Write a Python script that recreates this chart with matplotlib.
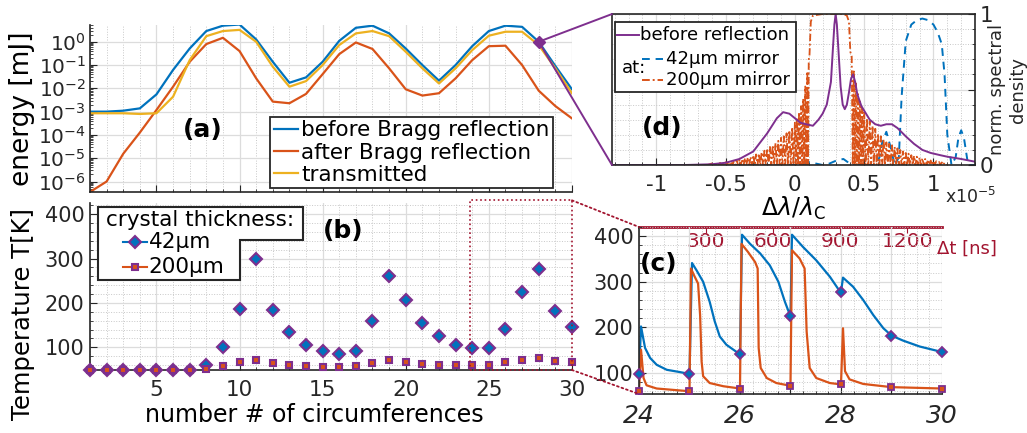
import numpy as np
import matplotlib
matplotlib.use('Agg')
import matplotlib.pyplot as plt
from matplotlib.patches import ConnectionPatch, Rectangle, Polygon
from matplotlib.lines import Line2D
from matplotlib.ticker import MultipleLocator, LogLocator, NullFormatter, FixedLocator

plt.rcParams['font.family'] = 'DejaVu Sans'
plt.rcParams['axes.unicode_minus'] = False
plt.rcParams['text.color'] = '#262626'

c_blue = '#0072BD'
c_orange = '#D95319'
c_yellow = '#EDB120'
c_purple = '#7E2F8E'
c_red = '#A2142F'
c_ax = '#262626'

# ---- data ----
turns = list(range(1, 31))
# (a) pulse energy, log10(mJ)
log_before = [-3.0, -3.0, -2.96, -2.86, -2.26, -1.21, -0.29, 0.46, 0.69, 0.74,
              0.10, -0.86, -1.76, -1.53, -0.86, 0.04, 0.60, 0.69, 0.36, -0.29,
              -1.0, -1.67, -1.0, -0.19, 0.46, 0.69, 0.64, 0.0, -1.04, -2.04]
log_after = [-6.45, -6.0, -4.81, -3.9, -2.93, -1.93, -0.86, -0.10, 0.17, -0.40,
             -1.57, -2.57, -2.64, -2.24, -1.39, -0.53, -0.03, -0.31, -1.14, -2.04,
             -2.31, -2.21, -1.57, -0.79, -0.19, -0.17, -1.0, -2.1, -2.76, -3.29]
log_trans = [-3.07, -3.07, -3.07, -3.1, -3.07, -2.36, -0.79, 0.24, 0.46, 0.51,
             0.0, -1.07, -1.93, -1.69, -1.0, -0.14, 0.36, 0.46, 0.24, -0.43,
             -1.14, -1.79, -1.14, -0.36, 0.26, 0.43, 0.43, -0.14, -1.14, -2.21]

# (b) crystal temperature after each circumference [K]
temp_42 = [50, 50, 50, 50, 50, 50, 50, 60, 100, 187, 300, 184, 135, 105, 92,
           86, 92, 160, 260, 206, 154, 125, 105, 98, 98, 141, 224, 277, 182, 146]
temp_200 = [50, 50, 50, 50, 50, 50, 50, 52, 58, 66, 71, 65, 61, 59, 56,
            56, 59, 65, 71, 68, 63, 61, 60, 60, 60, 66, 72, 75, 69, 66]

# (c) temperature vs time (in circumferences)
ns_per_turn = 226
c42_t = [24.0, 24.04, 24.12, 24.22, 24.35, 24.55, 24.81, 25.0, 25.05, 25.14, 25.27,
         25.4, 25.5, 25.6, 25.73, 25.87, 26.0, 26.04, 26.2, 26.4, 26.59, 26.76, 26.89,
         27.0, 27.03, 27.25, 27.51, 27.78, 27.94, 28.0, 28.04, 28.24, 28.44, 28.64,
         28.84, 29.0, 29.23, 29.56, 30.0]
c42_T = [98, 202, 155, 133, 118, 107, 102, 98, 341, 325, 300,
         256, 213, 180, 162, 151, 141, 403, 383, 362, 336, 300, 256,
         224, 403, 376, 347, 311, 285, 277, 309, 289, 260, 227,
         198, 182, 171, 158, 146]
c200_t = [24.0, 24.04, 24.09, 24.15, 24.35, 25.0, 25.03, 25.09, 25.17, 25.21, 25.24,
          25.27, 25.4, 25.67, 26.0, 26.03, 26.16, 26.3, 26.35, 26.37, 26.41, 26.53,
          26.72, 27.0, 27.03, 27.18, 27.28, 27.32, 27.38, 27.51, 27.78, 28.0, 28.04,
          28.08, 28.17, 28.44, 29.0, 30.0]
c200_T = [60, 151, 89, 73, 66, 60, 329, 314, 296, 227, 125,
          93, 78, 71, 66, 383, 365, 343, 329, 155, 111, 89,
          78, 72, 369, 351, 329, 191, 111, 89, 78, 75, 198,
          104, 86, 76, 69, 66]

# (d) normalised spectra, x in units of 1e-5
spec_x = [-1.32, -0.8, -0.6, -0.5, -0.4, -0.3, -0.2, -0.13, -0.085, -0.04, 0.0, 0.04,
          0.08, 0.13, 0.17, 0.2, 0.23, 0.26, 0.275, 0.285, 0.294, 0.303, 0.315, 0.33,
          0.345, 0.36, 0.375, 0.39, 0.405, 0.42, 0.435, 0.45, 0.48, 0.54, 0.58, 0.62,
          0.66, 0.70, 0.74, 0.80, 0.86, 0.92, 0.98, 1.05, 1.1, 1.2, 1.3]
spec_before = [0.0, 0.0, 0.005, 0.015, 0.04, 0.09, 0.21, 0.31, 0.35, 0.34, 0.31, 0.28,
               0.27, 0.26, 0.30, 0.34, 0.40, 0.55, 0.78, 0.93, 1.0, 0.93, 0.75, 0.52,
               0.40, 0.37, 0.40, 0.48, 0.57, 0.60, 0.55, 0.47, 0.39, 0.30, 0.27, 0.26,
               0.27, 0.27, 0.245, 0.19, 0.14, 0.10, 0.08, 0.065, 0.055, 0.04, 0.022]
m42_x = [-1.32, 0.05, 0.1, 0.15, 0.2, 0.25, 0.3, 0.35, 0.38, 0.4, 0.58, 0.61, 0.63,
         0.66, 0.69, 0.72, 0.75, 0.77, 0.80, 0.84, 0.88, 0.92, 0.96, 1.00, 1.03, 1.06,
         1.08, 1.10, 1.13, 1.16, 1.18, 1.20, 1.22, 1.25, 1.3]
m42_y = [0, 0, 0.02, 0.01, 0.0, 0.01, 0.03, 0.04, 0.02, 0, 0, 0.05, 0.15,
         0.22, 0.12, 0, 0.05, 0.45, 0.82, 0.93, 0.96, 0.97, 0.96, 0.93, 0.88, 0.80,
         0.6, 0.2, 0, 0.05, 0.18, 0.23, 0.18, 0, 0]
m200_left_x = [-0.60, -0.58, -0.56, -0.54, -0.52, -0.50, -0.48, -0.46, -0.44, -0.42,
               -0.40, -0.38, -0.36, -0.34, -0.32, -0.30, -0.28, -0.26, -0.24, -0.22,
               -0.20, -0.18, -0.16, -0.14, -0.12, -0.10, -0.08, -0.06, -0.04, -0.02,
               0.00, 0.015, 0.03, 0.045, 0.06, 0.075, 0.09, 0.10]
m200_left_y = [0.01, 0.011, 0.012, 0.014, 0.016, 0.018, 0.02, 0.023, 0.026, 0.03,
               0.035, 0.04, 0.045, 0.05, 0.055, 0.065, 0.07, 0.075, 0.085, 0.095,
               0.11, 0.12, 0.13, 0.145, 0.16, 0.18, 0.19, 0.21, 0.23, 0.25,
               0.28, 0.31, 0.35, 0.39, 0.44, 0.52, 0.62, 0.70]
m200_top_x = [0.105, 0.115, 0.13, 0.2, 0.35, 0.375, 0.39, 0.40]
m200_top_y = [0.72, 0.95, 0.99, 1.0, 1.0, 0.99, 0.95, 0.75]
m200_right_x = [0.41, 0.425, 0.44, 0.455, 0.47, 0.485, 0.50, 0.52, 0.54, 0.56, 0.58,
                0.60, 0.62, 0.64, 0.66, 0.68, 0.70, 0.72, 0.74, 0.76, 0.78, 0.80,
                0.82, 0.84, 0.86, 0.88, 0.90, 0.92, 0.94, 0.96, 0.98, 1.00, 1.02,
                1.04, 1.06, 1.08]
m200_right_y = [0.72, 0.62, 0.54, 0.47, 0.42, 0.38, 0.35, 0.31, 0.29, 0.26, 0.24,
                0.21, 0.19, 0.17, 0.15, 0.14, 0.13, 0.12, 0.11, 0.10, 0.09, 0.08,
                0.075, 0.065, 0.06, 0.055, 0.05, 0.045, 0.04, 0.035, 0.03, 0.028,
                0.025, 0.02, 0.017, 0.015]


def fringes(px, py):
    # peaks with zero minima in between
    xs, ys = [], []
    for i in range(len(px)):
        xs.append(px[i]); ys.append(py[i])
        if i + 1 < len(px):
            xs.append((px[i] + px[i + 1]) / 2); ys.append(0)
    return xs, ys


def matlab_style(ax, xmaj, xmin, ymaj=None, ymin=None):
    for s in ax.spines.values():
        s.set_color(c_ax)
        s.set_linewidth(1.2)
    ax.tick_params(which='both', direction='in', colors=c_ax, labelsize=15)
    ax.tick_params(which='major', length=5)
    ax.tick_params(which='minor', length=2.5)
    ax.xaxis.set_major_locator(MultipleLocator(xmaj))
    ax.xaxis.set_minor_locator(MultipleLocator(xmin))
    if ymaj is not None:
        ax.yaxis.set_major_locator(MultipleLocator(ymaj))
        ax.yaxis.set_minor_locator(MultipleLocator(ymin))
    ax.grid(which='major', color='#dcdcdc', lw=0.9, ls='-')
    ax.grid(which='minor', color='#c8c8c8', lw=0.7, ls=':')
    ax.set_axisbelow(True)


fig = plt.figure(figsize=(10.27, 4.33), dpi=100)

# ---------------- (a) ----------------
ax_a = fig.add_axes([0.0876, 0.5566, 0.4693, 0.3857])
e_before = [10 ** v for v in log_before]
e_after = [10 ** v for v in log_after]
e_trans = [10 ** v for v in log_trans]
ax_a.plot(turns, e_before, color=c_blue, lw=1.6, label='before Bragg reflection')
ax_a.plot(turns, e_after, color=c_orange, lw=1.6, label='after Bragg reflection')
ax_a.plot(turns, e_trans, color=c_yellow, lw=1.6, label='transmitted')
ax_a.plot([28], [e_before[27]], marker='D', ms=6.5, color=c_purple, ls='none')
ax_a.set_yscale('log')
ax_a.set_xlim(1, 30)
ax_a.set_ylim(10 ** -6.45, 10 ** 0.72)
matlab_style(ax_a, 5, 1)
ax_a.yaxis.set_major_locator(LogLocator(base=10, numticks=20))
ax_a.yaxis.set_minor_locator(LogLocator(base=10, subs=np.arange(2, 10), numticks=20))
ax_a.yaxis.set_minor_formatter(NullFormatter())
ax_a.grid(which='minor', axis='y', visible=False)
ax_a.tick_params(axis='y', labelsize=14.5, pad=3)
ax_a.tick_params(axis='x', labelbottom=False)
ax_a.spines['top'].set_visible(False)
ax_a.spines['right'].set_visible(False)
ax_a.set_ylabel('energy [mJ]', fontsize=19)
ax_a.yaxis.set_label_coords(-0.114, 0.5)
leg = ax_a.legend(loc='lower right', bbox_to_anchor=(0.96, 0.024), borderaxespad=0,
                  fontsize=15.5, frameon=True, fancybox=False, framealpha=1,
                  edgecolor='#262626', borderpad=0.15, labelspacing=0.1,
                  handlelength=1.15, handletextpad=0.12)
leg.get_frame().set_linewidth(1.3)
for t in leg.get_texts():
    t.set_color('black')
ax_a.text(0.234, 0.371, '(a)', transform=ax_a.transAxes, fontsize=18,
          fontweight='bold', color='black', ha='center', va='center')

# ---------------- (b) ----------------
ax_b = fig.add_axes([0.0876, 0.1455, 0.4693, 0.3857])
ax_b.plot(turns, temp_42, ls='none', marker='D', ms=6.5, mfc=c_blue, mec=c_purple,
          mew=1.5, clip_on=False, zorder=3)
ax_b.plot(turns, temp_200, ls='none', marker='s', ms=5, mfc=c_orange, mec=c_purple,
          mew=1.5, clip_on=False, zorder=3)
ax_b.set_xlim(1, 30)
ax_b.set_ylim(49, 425)
matlab_style(ax_b, 5, 1, 100, 20)
ax_b.tick_params(axis='x', labelsize=15.5, pad=7)
ax_b.tick_params(axis='y', pad=4)
ax_b.spines['top'].set_visible(False)
ax_b.spines['right'].set_visible(False)
ax_b.set_ylabel('Temperature T[K]', fontsize=17.5)
ax_b.yaxis.set_label_coords(-0.114, 0.335)
ax_b.set_xlabel('number # of circumferences', fontsize=17)
ax_b.xaxis.set_label_coords(0.465, -0.2)
# legend box with wider title part
ax_b.add_patch(Polygon([(0.0166, 0.976), (0.442, 0.976), (0.442, 0.778), (0.311, 0.778),
                        (0.311, 0.539), (0.0166, 0.539)], closed=True,
                       transform=ax_b.transAxes, fc='white', ec='#262626', lw=1.5,
                       zorder=5, clip_on=False))
ax_b.text(0.033, 0.898, 'crystal thickness:', transform=ax_b.transAxes, fontsize=15.5,
          color='black', va='center', ha='left', zorder=6)
for fy, lab, col, mk, ms in [(0.768, '42µm', c_blue, 'D', 6.5), (0.619, '200µm', c_orange, 's', 5)]:
    ax_b.add_line(Line2D([0.069, 0.118], [fy, fy], color=col, lw=1.5,
                         transform=ax_b.transAxes, zorder=6))
    ax_b.add_line(Line2D([0.0935], [fy], marker=mk, ms=ms, mfc=col, mec=c_purple, mew=1.5,
                         transform=ax_b.transAxes, zorder=7))
    ax_b.text(0.122, fy, lab, transform=ax_b.transAxes, fontsize=15.5, color='black',
              va='center', ha='left', zorder=6)
ax_b.text(0.525, 0.832, '(b)', transform=ax_b.transAxes, fontsize=18,
          fontweight='bold', color='black', ha='center', va='center')
ax_b.add_patch(Rectangle((23.85, 49), 6.15, 382, fill=False, ls=':', ec=c_red, lw=1.2,
                         clip_on=False, zorder=4))

# ---------------- (d) ----------------
ax_d = fig.add_axes([0.5959, 0.6189, 0.3535, 0.3487])
fl_x, fl_y = fringes(m200_left_x, m200_left_y)
fr_x, fr_y = fringes(m200_right_x, m200_right_y)
m200_x = [-0.63] + fl_x + m200_top_x + fr_x + [1.1]
m200_y = [0] + fl_y + m200_top_y + fr_y + [0]
ax_d.plot(m42_x, m42_y, color=c_blue, lw=1.4, ls=(0, (4, 3)))
ax_d.plot(m200_x, m200_y, color=c_orange, lw=1.3, ls=(0, (4, 1.5, 1, 1.5)))
ax_d.plot(spec_x, spec_before, color=c_purple, lw=1.4)
ax_d.set_xlim(-1.32, 1.3)
ax_d.set_ylim(0, 1)
matlab_style(ax_d, 0.5, 0.1, 0.5, 0.1)
ax_d.yaxis.tick_right()
ax_d.yaxis.set_major_locator(FixedLocator([0, 0.5, 1]))
ax_d.set_yticklabels(['0', '', '1'])
ax_d.set_xticks([-1, -0.5, 0, 0.5, 1])
ax_d.set_xticklabels(['-1', '-0.5', '0', '0.5', '1'])
ax_d.tick_params(axis='x', labelsize=15.5, pad=7)
ax_d.tick_params(axis='y', labelsize=15.5, pad=3)
ax_d.set_xlabel(r'$\Delta\lambda/\lambda_\mathrm{C}$', fontsize=17)
ax_d.xaxis.set_label_coords(0.5, -0.2)
ax_d.text(0.917, -0.21, r'x10$^{-5}$', transform=ax_d.transAxes, fontsize=12.5,
          ha='left', va='center')
ax_d.text(1.09, 0.5, 'norm. spectral\ndensity', transform=ax_d.transAxes, fontsize=13,
          rotation=90, ha='center', va='center', multialignment='center')
# legend
ax_d.add_patch(Rectangle((0.008, 0.485), 0.499, 0.462, transform=ax_d.transAxes,
                         fc='white', ec='#262626', lw=1.3, zorder=5))
ax_d.add_line(Line2D([0.013, 0.075], [0.861, 0.861], color=c_purple, lw=1.4,
                     transform=ax_d.transAxes, zorder=6))
ax_d.text(0.078, 0.861, 'before reflection', transform=ax_d.transAxes, fontsize=13,
          color='black', va='center', zorder=6)
ax_d.text(0.027, 0.64, 'at:', transform=ax_d.transAxes, fontsize=13, color='black',
          va='center', zorder=6)
ax_d.add_line(Line2D([0.082, 0.141], [0.70, 0.70], color=c_blue, lw=1.4, ls=(0, (4, 3)),
                     transform=ax_d.transAxes, zorder=6))
ax_d.text(0.148, 0.70, '42µm mirror', transform=ax_d.transAxes, fontsize=13,
          color='black', va='center', zorder=6)
ax_d.add_line(Line2D([0.082, 0.141], [0.563, 0.563], color=c_orange, lw=1.4,
                     ls=(0, (4, 1.5, 1, 1.5)), transform=ax_d.transAxes, zorder=6))
ax_d.text(0.148, 0.563, '200µm mirror', transform=ax_d.transAxes, fontsize=13,
          color='black', va='center', zorder=6)
ax_d.text(0.139, 0.245, '(d)', transform=ax_d.transAxes, fontsize=18,
          fontweight='bold', color='black', ha='center', va='center')

# ---------------- (c) ----------------
ax_c = fig.add_axes([0.6222, 0.0901, 0.2950, 0.3857])
ax_c.plot(c42_t, c42_T, color=c_blue, lw=1.6)
ax_c.plot(c200_t, c200_T, color=c_orange, lw=1.6)
ax_c.plot(turns[23:], temp_42[23:], ls='none', marker='D', ms=5.5, mfc=c_blue, mec=c_purple,
          mew=1.3, clip_on=False, zorder=3)
ax_c.plot(turns[23:], temp_200[23:], ls='none', marker='s', ms=4.5, mfc=c_orange,
          mec=c_purple, mew=1.3, clip_on=False, zorder=3)
ax_c.set_xlim(24, 30)
ax_c.set_ylim(54, 420)
matlab_style(ax_c, 1, 0.25, 100, 20)
ax_c.set_xticks([24, 25, 26, 27, 28, 29, 30])
ax_c.set_xticklabels(['24', '', '26', '', '28', '', '30'])
ax_c.tick_params(axis='x', labelsize=18, pad=7)
ax_c.tick_params(axis='y', pad=4)
for lab in ax_c.get_xticklabels():
    lab.set_style('italic')
ax_c.spines['top'].set_visible(False)
ax_c.spines['right'].set_visible(False)
sec = ax_c.secondary_xaxis('top', functions=(lambda x: (x - 24) * ns_per_turn,
                                             lambda t: 24 + t / ns_per_turn))
sec.set_xticks([300, 600, 900, 1200])
sec.tick_params(direction='in', colors=c_red, labelsize=14.5, pad=-17, length=4)
sec.spines['top'].set_color(c_red)
sec.spines['top'].set_linewidth(2)
ax_c.text(1.083, 0.868, 'Δt [ns]', transform=ax_c.transAxes, fontsize=13, color=c_red,
          ha='center', va='center')
ax_c.text(0.066, 0.778, '(c)', transform=ax_c.transAxes, fontsize=18,
          fontweight='bold', color='black', ha='center', va='center')

# ---------------- connectors ----------------
for yb in (1, 0):
    con = ConnectionPatch(xyA=(28, e_before[27]), coordsA=ax_a.transData,
                          xyB=(0, yb), coordsB=ax_d.transAxes, color=c_purple, lw=1.4)
    fig.add_artist(con)
for ya, yb in ((431, 1), (49, 0)):
    con = ConnectionPatch(xyA=(30, ya), coordsA=ax_b.transData,
                          xyB=(0, yb), coordsB=ax_c.transAxes, color=c_red, lw=1.3, ls=':')
    fig.add_artist(con)

fig.savefig('out.png', dpi=100)
